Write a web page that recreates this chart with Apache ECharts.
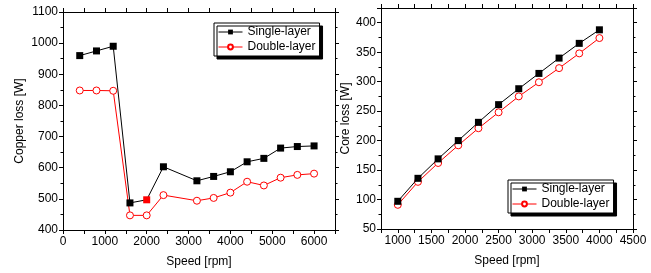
<!DOCTYPE html>
<html>
<head>
<meta charset="utf-8">
<script src="https://cdn.jsdelivr.net/npm/echarts@6/dist/echarts.min.js"></script>
<style>
html, body { margin: 0; padding: 0; background: #fff; }
#chart { width: 651px; height: 273px; }
</style>
</head>
<body>
<div id="chart"></div>
<script>
// copper loss vs speed
var speedCu = [400, 800, 1200, 1600, 2000, 2400, 3200, 3600, 4000, 4400, 4800, 5200, 5600, 6000];
var cuSingle = [960, 975, 990, 487, 497, 603, 558, 572, 587, 619, 630, 663, 668, 670];
var cuDouble = [848, 848, 847, 447, 447, 512, 494, 503, 520, 555, 543, 568, 577, 581];

// core loss vs speed
var speedFe = [1000, 1300, 1600, 1900, 2200, 2500, 2800, 3100, 3400, 3700, 4000];
var feSingle = [97, 136, 169, 200, 231, 261, 288, 314, 340, 365, 388];
var feDouble = [91, 130, 162, 192, 221, 248, 275, 299, 323, 348, 374];

var legendNames = ['Single-layer', 'Double-layer'];

var font = 'Liberation Sans, Arial, sans-serif';
var black = '#000';

function pairs(xs, ys) {
    return xs.map(function (x, i) { return [x, ys[i]]; });
}

function xAx(grid, opt, top) {
    var a = {
        type: 'value', gridIndex: grid, position: top ? 'top' : 'bottom',
        min: opt.min, max: opt.max, interval: opt.interval,
        axisLine: { show: true, onZero: false, lineStyle: { color: black, width: 1 } },
        axisTick: { show: true, length: 4, lineStyle: { color: black } },
        splitLine: { show: false },
        axisLabel: {
            show: !top, color: black, fontFamily: font, fontSize: 12, margin: 6,
            formatter: function (v) { return v % opt.labelStep === 0 ? String(v) : ''; }
        }
    };
    if (!top) {
        a.name = 'Speed [rpm]';
        a.nameLocation = 'middle';
        a.nameGap = 26;
        a.nameTextStyle = { color: black, fontFamily: font, fontSize: 12 };
    }
    return a;
}

function yAx(grid, opt, right, name) {
    var a = {
        type: 'value', gridIndex: grid, position: right ? 'right' : 'left',
        min: opt.min, max: opt.max, interval: opt.interval,
        axisLine: { show: true, onZero: false, lineStyle: { color: black, width: 1 } },
        axisTick: { show: true, length: 4, lineStyle: { color: black } },
        minorTick: { show: true, splitNumber: 2, length: 2.5, lineStyle: { color: black } },
        splitLine: { show: false },
        minorSplitLine: { show: false },
        axisLabel: {
            show: !right, color: black, fontFamily: font, fontSize: 12, margin: 5, showMaxLabel: opt.showMax,
            formatter: function (v) { return String(v); }
        }
    };
    if (!right) {
        a.name = name;
        a.nameLocation = 'middle';
        a.nameGap = opt.nameGap;
        a.nameTextStyle = { color: black, fontFamily: font, fontSize: 12 };
    }
    return a;
}

function legendAt(left, top) {
    return {
        left: left, top: top, orient: 'vertical',
        data: legendNames,
        backgroundColor: '#fff', borderColor: black, borderWidth: 1,
        shadowColor: black, shadowBlur: 0, shadowOffsetX: 3, shadowOffsetY: 3,
        padding: [3, 4, 3, 4], itemGap: 3, itemWidth: 24, itemHeight: 6,
        lineStyle: { width: 1 },
        textStyle: { color: black, fontFamily: font, fontSize: 12 }
    };
}

var cuX = { min: 0, max: 6500, interval: 500, labelStep: 1000 };
var cuY = { min: 400, max: 1100, interval: 100, showMax: true, nameGap: 37 };
var feX = { min: 750, max: 4500, interval: 250, labelStep: 500 };
var feY = { min: 50, max: 425, interval: 50, showMax: false, nameGap: 29 };

var singleCu = pairs(speedCu, cuSingle);
// the 2000 rpm point is drawn as a red filled square in the figure
singleCu[4] = { value: singleCu[4], itemStyle: { color: '#ff0000', borderColor: '#ff0000' } };

function singleSeries(x, y, data) {
    return {
        name: 'Single-layer', type: 'line', xAxisIndex: x, yAxisIndex: y, data: data,
        symbol: 'rect', symbolSize: 7, showAllSymbol: true,
        lineStyle: { color: black, width: 1 },
        itemStyle: { color: black, borderColor: black, borderWidth: 0 },
        emphasis: { disabled: true }, animation: false, z: 3
    };
}
function doubleSeries(x, y, data) {
    return {
        name: 'Double-layer', type: 'line', xAxisIndex: x, yAxisIndex: y, data: data,
        symbol: 'circle', symbolSize: 7, showAllSymbol: true,
        lineStyle: { color: '#ff0000', width: 1 },
        itemStyle: { color: '#fff', borderColor: '#ff0000', borderWidth: 1 },
        emphasis: { disabled: true }, animation: false, z: 2
    };
}

var chart = echarts.init(document.getElementById('chart'), null, { renderer: 'canvas' });
chart.setOption({
    backgroundColor: '#fff',
    animation: false,
    legend: [legendAt(214, 23), legendAt(508, 180)],
    grid: [
        { left: 63, right: 316, top: 12, bottom: 43 },
        { left: 381, right: 18, top: 8, bottom: 44 }
    ],
    xAxis: [xAx(0, cuX, false), xAx(0, cuX, true), xAx(1, feX, false), xAx(1, feX, true)],
    yAxis: [yAx(0, cuY, false, 'Copper loss [W]'), yAx(0, cuY, true), yAx(1, feY, false, 'Core loss [W]'), yAx(1, feY, true)],
    series: [
        singleSeries(0, 0, singleCu),
        doubleSeries(0, 0, pairs(speedCu, cuDouble)),
        singleSeries(2, 2, pairs(speedFe, feSingle)),
        doubleSeries(2, 2, pairs(speedFe, feDouble))
    ]
});
</script>
</body>
</html>
